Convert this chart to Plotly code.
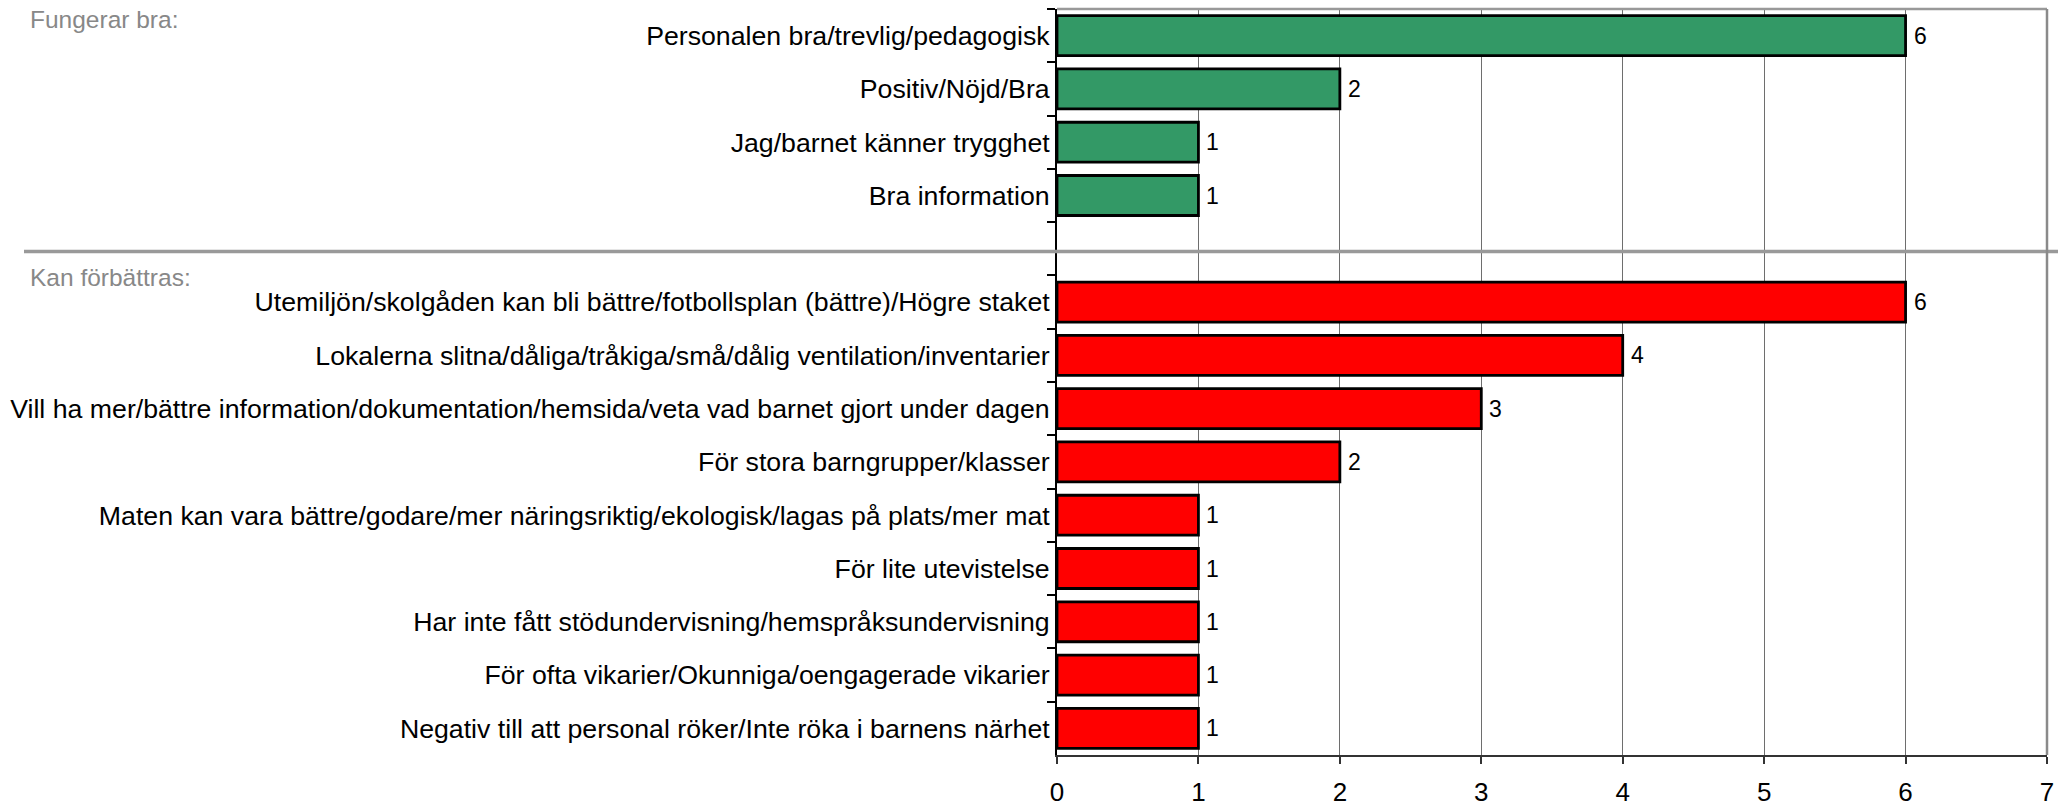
import plotly.graph_objects as go

good_labels = [
    "Personalen bra/trevlig/pedagogisk",
    "Positiv/Nöjd/Bra",
    "Jag/barnet känner trygghet",
    "Bra information",
]
good_values = [6, 2, 1, 1]

improve_labels = [
    "Utemiljön/skolgåden kan bli bättre/fotbollsplan (bättre)/Högre staket",
    "Lokalerna slitna/dåliga/tråkiga/små/dålig ventilation/inventarier",
    "Vill ha mer/bättre information/dokumentation/hemsida/veta vad barnet gjort under dagen",
    "För stora barngrupper/klasser",
    "Maten kan vara bättre/godare/mer näringsriktig/ekologisk/lagas på plats/mer mat",
    "För lite utevistelse",
    "Har inte fått stödundervisning/hemspråksundervisning",
    "För ofta vikarier/Okunniga/oengagerade vikarier",
    "Negativ till att personal röker/Inte röka i barnens närhet",
]
improve_values = [6, 4, 3, 2, 1, 1, 1, 1, 1]

section_titles = ["Fungerar bra:", "Kan förbättras:"]
spacer = " "
x_ticks = [0, 1, 2, 3, 4, 5, 6, 7]

categories = good_labels + [spacer] + improve_labels

GREEN = "#339966"
RED = "#FF0000"
FONT = "Liberation Sans, Arial, sans-serif"

fig = go.Figure()
fig.add_trace(go.Bar(
    y=good_labels, x=good_values, orientation="h",
    marker=dict(color=GREEN, line=dict(color="black", width=2.8)),
    hoverinfo="x+y",
))
fig.add_trace(go.Bar(
    y=improve_labels, x=improve_values, orientation="h",
    marker=dict(color=RED, line=dict(color="black", width=2.8)),
    hoverinfo="x+y",
))

# value labels
for lbls, vals in ((good_labels, good_values), (improve_labels, improve_values)):
    for l, v in zip(lbls, vals):
        fig.add_annotation(x=v, y=l, xref="x", yref="y", text=str(v),
                           showarrow=False, xanchor="left", xshift=6,
                           font=dict(family=FONT, size=23, color="black"))

# plot geometry (pixels)
W, H = 2069, 806
L, R, T, B = 1057, 22, 9, 51
pw = W - L - R
ph = H - T - B

def px_x(px):
    return (px - L) / pw

def px_y(py):
    return (H - B - py) / ph

# section titles
fig.add_annotation(x=px_x(28), y=px_y(19), xref="paper", yref="paper",
                   text=section_titles[0], showarrow=False,
                   xanchor="left", yanchor="middle",
                   font=dict(family=FONT, size=24.5, color="#888888"))
fig.add_annotation(x=px_x(28), y=px_y(277), xref="paper", yref="paper",
                   text=section_titles[1], showarrow=False,
                   xanchor="left", yanchor="middle",
                   font=dict(family=FONT, size=24.5, color="#888888"))

# separator line
fig.add_shape(type="line", xref="paper", yref="paper",
              x0=px_x(24), x1=px_x(2058), y0=px_y(251.5), y1=px_y(251.5),
              line=dict(color="#999999", width=3.5), layer="above")
# top and right borders
fig.add_shape(type="line", xref="paper", yref="paper",
              x0=0, x1=1, y0=1, y1=1, line=dict(color="#999999", width=2.5))
fig.add_shape(type="line", xref="paper", yref="paper",
              x0=1, x1=1, y0=0, y1=1, line=dict(color="#8a8a8a", width=2.5))

fig.update_layout(
    width=W, height=H,
    margin=dict(l=L, r=R, t=T, b=B, pad=0, autoexpand=False),
    paper_bgcolor="white", plot_bgcolor="white",
    barmode="overlay", bargap=0.25,
    showlegend=False,
    font=dict(family=FONT, color="black"),
    xaxis=dict(
        range=[0, 7], tickvals=x_ticks, ticktext=[str(t) for t in x_ticks],
        showgrid=True, gridcolor="#6e6e6e", gridwidth=1,
        showline=True, linecolor="#333333", linewidth=2,
        ticks="outside", ticklen=7, tickcolor="#333333", tickwidth=1.5,
        ticklabelstandoff=6,
        tickfont=dict(family=FONT, size=26, color="black"),
        zeroline=False, fixedrange=True, automargin=False,
    ),
    yaxis=dict(
        type="category", categoryorder="array", categoryarray=categories,
        autorange="reversed",
        showgrid=False, showline=True, linecolor="black", linewidth=2,
        ticks="outside", ticklen=8, tickcolor="black", tickwidth=1.5,
        tickson="boundaries",
        tickfont=dict(family=FONT, size=26.7, color="black"),
        zeroline=False, fixedrange=True, automargin=False,
    ),
)

fig.write_html(
    "out.html",
    config={"displayModeBar": False},
    post_script="document.body.style.margin='0';document.body.style.padding='0';"
                "document.body.style.overflow='hidden';",
)
